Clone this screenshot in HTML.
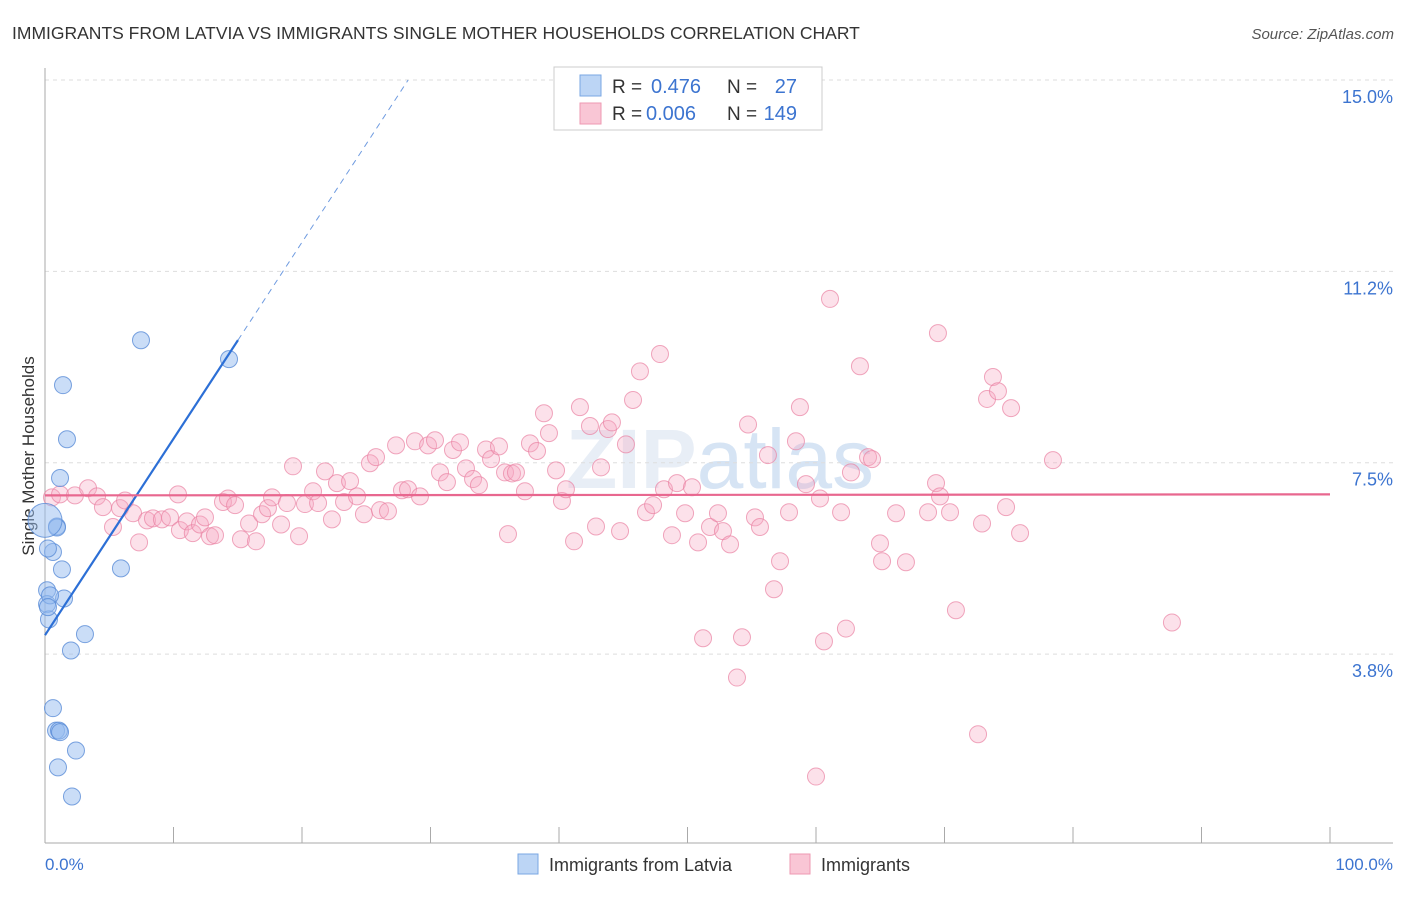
<!DOCTYPE html>
<html><head><meta charset="utf-8"><style>
body{margin:0;background:#fff;font-family:"Liberation Sans",sans-serif}
svg text{font-family:"Liberation Sans",sans-serif}
</style></head><body>
<svg id="chart" width="1406" height="892" xmlns="http://www.w3.org/2000/svg">
<text x="12" y="39" font-size="17.5" fill="#333">IMMIGRANTS FROM LATVIA VS IMMIGRANTS SINGLE MOTHER HOUSEHOLDS CORRELATION CHART</text>
<text x="1394" y="39" font-size="15" fill="#555" text-anchor="end" font-style="italic">Source: ZipAtlas.com</text>
<text x="720" y="488" font-size="84" fill="#e8eef6" text-anchor="middle" font-weight="bold">ZIP<tspan fill="#d6e4f4" font-weight="normal">atlas</tspan></text>
<text transform="translate(34,456) rotate(-90)" font-size="17" fill="#333" text-anchor="middle">Single Mother Households</text>
<g id="grid"></g><g id="axes"></g><g id="pts"></g><g id="lines"></g>
<g>
<rect x="554" y="67" width="268" height="63" fill="#fff" stroke="#ccc"/>
<rect x="580" y="75" width="21" height="21" fill="#bcd5f5" stroke="#7aa7e3"/>
<rect x="580" y="103" width="21" height="21" fill="#f9c6d5" stroke="#ee98b2"/>
<text x="612" y="93" font-size="19" fill="#333">R =</text>
<text x="651" y="93" font-size="20" fill="#3c74d0">0.476</text>
<text x="727" y="93" font-size="19" fill="#333">N =</text>
<text x="797" y="93" font-size="20" fill="#3c74d0" text-anchor="end">27</text>
<text x="612" y="120" font-size="19" fill="#333">R =</text>
<text x="646" y="120" font-size="20" fill="#3c74d0">0.006</text>
<text x="727" y="120" font-size="19" fill="#333">N =</text>
<text x="797" y="120" font-size="20" fill="#3c74d0" text-anchor="end">149</text>
</g>
<g>
<rect x="518" y="854" width="20" height="20" fill="#bcd5f5" stroke="#7aa7e3"/>
<text x="549" y="871" font-size="18" fill="#333">Immigrants from Latvia</text>
<rect x="790" y="854" width="20" height="20" fill="#f9c6d5" stroke="#ee98b2"/>
<text x="821" y="871" font-size="18" fill="#333">Immigrants</text>
</g>
</svg>
<script>
const yTicks=[15,11.25,7.5,3.75];
const yTickLabels=["15.0%","11.2%","7.5%","3.8%"];
const xTicks=[0,10,20,30,40,50,60,70,80,90,100];
const blueX=[7.47,14.32,1.4,1.71,1.17,0.93,0.62,1.32,5.91,0.16,1.48,0.16,0.31,3.11,2.02,0.62,0.86,1.09,1.17,2.41,1.01,2.1,0.23,0.39,0.23,0.93,0];
const blueY=[9.9,9.53,9.02,7.96,7.2,6.25,5.75,5.41,5.43,5.0,4.84,4.73,4.43,4.14,3.82,2.69,2.25,2.25,2.22,1.86,1.53,0.96,5.82,4.9,4.67,6.23,6.37];
const pinkX=[0.54,1.17,2.33,3.35,4.05,4.51,5.29,5.84,6.23,6.85,7.32,7.94,8.4,9.1,9.73,10.35,10.5,11.05,11.5,12.06,12.45,12.84,13.23,13.85,14.24,14.79,15.25,15.88,16.42,16.89,17.35,17.67,18.37,18.83,19.3,19.77,20.23,20.86,21.25,21.79,22.33,22.72,23.27,23.74,24.28,24.82,25.29,25.76,26.07,26.69,27.32,27.78,28.25,28.79,29.18,29.81,30.35,30.74,31.28,31.75,32.3,32.76,33.31,33.77,34.32,34.71,35.33,35.8,36.03,36.34,36.65,37.35,37.74,38.29,38.83,39.22,39.77,40.23,40.54,41.17,41.63,42.41,42.88,43.27,43.81,44.12,44.75,45.21,45.76,46.3,46.77,47.32,47.86,48.17,48.79,49.18,49.81,50.35,50.82,51.21,51.75,52.37,52.76,53.31,53.85,54.24,54.71,55.25,55.64,56.26,56.73,57.2,57.9,58.44,58.75,59.22,60.0,60.31,60.62,61.09,61.95,62.33,62.72,63.42,64.05,64.36,64.98,65.14,66.23,67.0,68.72,69.34,69.65,69.49,70.43,70.89,72.61,72.92,73.31,73.77,74.16,74.79,75.18,75.88,78.44,87.7];
const pinkY=[6.82,6.88,6.86,7.0,6.84,6.63,6.24,6.61,6.76,6.51,5.94,6.37,6.41,6.39,6.43,6.88,6.18,6.35,6.12,6.29,6.43,6.06,6.08,6.73,6.8,6.67,6.0,6.31,5.96,6.49,6.61,6.82,6.29,6.71,7.43,6.06,6.69,6.94,6.71,7.33,6.39,7.1,6.73,7.14,6.84,6.49,7.49,7.61,6.57,6.55,7.84,6.96,6.98,7.92,6.84,7.84,7.94,7.31,7.12,7.75,7.9,7.39,7.18,7.06,7.76,7.57,7.82,7.31,6.1,7.29,7.31,6.94,7.88,7.73,8.47,8.08,7.35,6.75,6.98,5.96,8.59,8.22,6.25,7.41,8.16,8.29,6.16,7.86,8.73,9.29,6.53,6.67,9.63,6.98,6.08,7.1,6.51,7.02,5.94,4.06,6.24,6.51,6.16,5.9,3.29,4.08,8.25,6.43,6.24,7.65,5.02,5.57,6.53,7.92,8.59,7.08,1.35,6.8,4.0,10.71,6.53,4.25,7.31,9.39,7.61,7.57,5.92,5.57,6.51,5.55,6.53,7.1,6.84,10.04,6.53,4.61,2.18,6.31,8.75,9.18,8.9,6.63,8.57,6.12,7.55,4.37];
const blueFit=[4.12,0.385];
const pinkFit=[6.86,0.0002];
const NS="http://www.w3.org/2000/svg";
const X=v=>45+v*12.85;
const Y=v=>80+(15-v)*51.03;
function mk(tag,attrs,parent){const e=document.createElementNS(NS,tag);for(const k in attrs)e.setAttribute(k,attrs[k]);document.getElementById(parent).appendChild(e);return e;}
yTicks.forEach((t,i)=>{
  const g=mk('line',{x1:45,x2:1393,y1:Y(t),y2:Y(t),stroke:'#ddd','stroke-dasharray':'4,4'},'grid');
  
  
  const l=mk('text',{x:1393,y:Y(t)+23,'font-size':18,fill:'#3c74d0','text-anchor':'end'},'axes');
  l.textContent=yTickLabels[i];
  
  
});
const ax=mk('line',{x1:45,x2:45,y1:68,y2:843,stroke:'#aaa'},'axes');


const bx=mk('line',{x1:45,x2:1393,y1:843,y2:843,stroke:'#aaa'},'axes');


xTicks.forEach(t=>{
  const k=mk('line',{x1:X(t),x2:X(t),y1:827,y2:843,stroke:'#aaa'},'axes');
  
  
});
const x0=mk('text',{x:45,y:870,'font-size':17,fill:'#3c74d0'},'axes');x0.textContent='0.0%';


const x1=mk('text',{x:1393,y:870,'font-size':17,fill:'#3c74d0','text-anchor':'end'},'axes');x1.textContent='100.0%';


pinkX.forEach((x,i)=>{
  const c=mk('circle',{cx:X(x),cy:Y(pinkY[i]),r:8.5,fill:'rgba(246,170,194,0.35)',stroke:'rgba(234,130,162,0.7)','stroke-width':1},'pts');
  
  
});
blueX.forEach((x,i)=>{
  const c=mk('circle',{cx:X(x),cy:Y(blueY[i]),r:i===26?17:8.5,fill:'rgba(150,188,240,0.5)',stroke:'rgba(90,140,215,0.8)','stroke-width':1},'pts');
  
  
});
const bf=v=>blueFit[0]+blueFit[1]*v;
const xs=15.02, xe=(15-blueFit[0])/blueFit[1];
const b1=mk('line',{x1:X(0),y1:Y(bf(0)),x2:X(xs),y2:Y(bf(xs)),stroke:'#2c6fd6','stroke-width':2.2},'lines');


const b2=mk('line',{x1:X(xs),y1:Y(bf(xs)),x2:X(xe),y2:Y(bf(xe)),stroke:'#6f9be0','stroke-width':1,'stroke-dasharray':'6,5'},'lines');


const pf=v=>pinkFit[0]+pinkFit[1]*v;
const p1=mk('line',{x1:X(0),y1:Y(pf(0)),x2:X(100),y2:Y(pf(100)),stroke:'#e8678f','stroke-width':2.2},'lines');


</script>
</body></html>
